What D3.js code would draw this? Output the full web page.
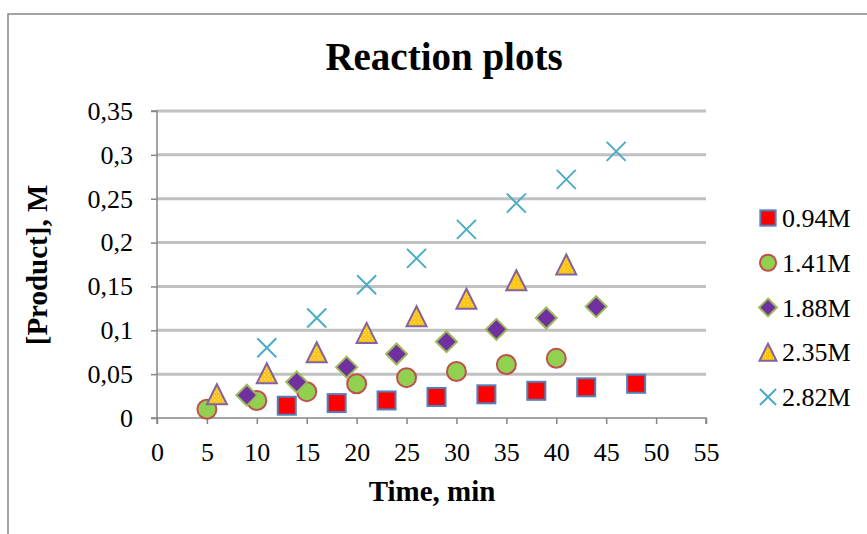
<!DOCTYPE html>
<html>
<head>
<meta charset="utf-8">
<script src="https://cdn.jsdelivr.net/npm/d3@7"></script>
<style>
  html, body { margin: 0; padding: 0; background: #fff; }
  svg { display: block; }
  text { font-family: "Liberation Serif", "Times New Roman", serif; fill: #000; }
</style>
</head>
<body>
<svg id="chart" width="867" height="534"></svg>
<script>
// ---- Data ----
const chartTitle = "Reaction plots";
const xTitle = "Time, min";
const yTitle = "[Product], M";
const seriesNames = ["0.94M", "1.41M", "1.88M", "2.35M", "2.82M"];
const times094 = [13, 18, 23, 28, 33, 38, 43, 48];
const vals094  = [0.014, 0.017, 0.020, 0.024, 0.027, 0.031, 0.035, 0.039];
const times141 = [5, 10, 15, 20, 25, 30, 35, 40];
const vals141  = [0.010, 0.020, 0.030, 0.039, 0.046, 0.053, 0.061, 0.068];
const times188 = [9, 14, 19, 24, 29, 34, 39, 44];
const vals188  = [0.026, 0.041, 0.058, 0.073, 0.087, 0.101, 0.114, 0.127];
const times235 = [6, 11, 16, 21, 26, 31, 36, 41];
const vals235  = [0.027, 0.051, 0.075, 0.097, 0.116, 0.136, 0.157, 0.175];
const times282 = [11, 16, 21, 26, 31, 36, 41, 46];
const vals282  = [0.080, 0.114, 0.152, 0.182, 0.215, 0.245, 0.272, 0.304];
const xTicks = [0, 5, 10, 15, 20, 25, 30, 35, 40, 45, 50, 55];
const yTicks = [0, 0.05, 0.1, 0.15, 0.2, 0.25, 0.3, 0.35];
const yTickLabels = ["0", "0,05", "0,1", "0,15", "0,2", "0,25", "0,3", "0,35"];

const seriesTimes = [times094, times141, times188, times235, times282];
const seriesVals = [vals094, vals141, vals188, vals235, vals282];
const series = seriesNames.map((name, i) => ({
  name, shape: i,
  points: seriesTimes[i].map((t, j) => ({ t, v: seriesVals[i][j] }))
}));

// ---- Layout ----
const svg = d3.select("#chart");
const plot = { left: 157, right: 706, top: 111, bottom: 418 };
const x = d3.scaleLinear().domain([0, 55]).range([plot.left, plot.right]);
const y = d3.scaleLinear().domain([0, 0.35]).range([plot.bottom, plot.top]);

// defs: dotted pattern for triangles
const defs = svg.append("defs");
const pat = defs.append("pattern").attr("id", "dots")
  .attr("patternUnits", "userSpaceOnUse").attr("width", 4).attr("height", 4);
pat.append("rect").attr("width", 4).attr("height", 4).attr("fill", "#ffc000");
pat.append("rect").attr("x", 1).attr("y", 1).attr("width", 1.3).attr("height", 1.3).attr("fill", "#fff8dc");
pat.append("rect").attr("x", 3).attr("y", 3).attr("width", 1).attr("height", 1).attr("fill", "#ffe59a");

svg.append("rect").attr("width", 867).attr("height", 534).attr("fill", "#fff");
// chart border (extends beyond the window)
svg.append("rect").attr("x", 8).attr("y", 14).attr("width", 900).attr("height", 600)
  .attr("fill", "none").attr("stroke", "#878787").attr("stroke-width", 1.5);

// gridlines
svg.append("g").selectAll("line").data(yTicks.filter(d => d > 0)).join("line")
  .attr("x1", plot.left).attr("x2", plot.right)
  .attr("y1", d => y(d)).attr("y2", d => y(d))
  .attr("stroke", "#c0c0c0").attr("stroke-width", 3);

// axes
const axisColor = "#868686";
const xAxis = svg.append("g").attr("transform", `translate(0,${plot.bottom})`)
  .call(d3.axisBottom(x).tickValues(xTicks).tickSize(6).tickPadding(19).tickFormat(d3.format("d")));
const yAxis = svg.append("g").attr("transform", `translate(${plot.left},0)`)
  .call(d3.axisLeft(y).tickValues(yTicks).tickSize(6).tickPadding(18).tickFormat((d, i) => yTickLabels[i]));
[xAxis, yAxis].forEach(g => {
  g.select(".domain").attr("stroke", axisColor).attr("stroke-width", 1.5);
  g.selectAll(".tick line").attr("stroke", axisColor).attr("stroke-width", 1.5);
  g.selectAll(".tick text").attr("font-family", "Liberation Serif").attr("font-size", 26).attr("fill", "#000");
});
xAxis.select(".domain").attr("d", `M${plot.left},6V0H${plot.right}V6`);
yAxis.select(".domain").attr("d", `M-6,${plot.top}H0V${plot.bottom}H-6`);

// marker drawing
function drawMarker(g, shape, s) {
  if (shape === 0) {
    g.append("rect").attr("x", -9 * s).attr("y", -9 * s).attr("width", 18 * s).attr("height", 18 * s)
      .attr("fill", "#ff0000").attr("stroke", "#4f81bd").attr("stroke-width", 2);
  } else if (shape === 1) {
    g.append("circle").attr("r", 9.5 * s)
      .attr("fill", "#92d050").attr("stroke", "#c0504d").attr("stroke-width", 2);
  } else if (shape === 2) {
    const r = 10.5 * s;
    g.append("path").attr("d", `M0,${-r}L${r},0L0,${r}L${-r},0Z`)
      .attr("fill", "#7030a0").attr("stroke", "#9bbb59").attr("stroke-width", 2);
  } else if (shape === 3) {
    const w = 10 * s, h = 10 * s;
    g.append("path").attr("d", `M0,${-h}L${w},${h}L${-w},${h}Z`)
      .attr("fill", "url(#dots)").attr("stroke", "#8064a2").attr("stroke-width", 2)
      .attr("stroke-linejoin", "miter");
  } else {
    const r = 9.5 * s;
    g.append("path").attr("d", `M${-r},${-r}L${r},${r}M${-r},${r}L${r},${-r}`)
      .attr("fill", "none").attr("stroke", "#4bacc6").attr("stroke-width", 2);
  }
}

// data points
series.forEach(sr => {
  const g = svg.append("g");
  sr.points.forEach(p => {
    const m = g.append("g").attr("transform", `translate(${x(p.t)},${y(p.v)})`);
    drawMarker(m, sr.shape, 1);
  });
});

// legend
const legendY = d3.scalePoint().domain(seriesNames).range([218, 397]);
series.forEach(sr => {
  const g = svg.append("g").attr("transform", `translate(768,${legendY(sr.name)})`);
  drawMarker(g, sr.shape, 0.85);
  g.append("text").attr("x", 14).attr("y", 0).attr("dy", "0.35em")
    .attr("font-size", 26).text(sr.name);
});

// titles
svg.append("text").attr("x", 444).attr("y", 70).attr("text-anchor", "middle")
  .attr("font-size", 39).attr("font-weight", "bold").text(chartTitle);
svg.append("text").attr("x", 432).attr("y", 501).attr("text-anchor", "middle")
  .attr("font-size", 29).attr("font-weight", "bold").text(xTitle);
svg.append("text").attr("transform", "translate(37,265) rotate(-90)")
  .attr("text-anchor", "middle").attr("dy", "0.35em")
  .attr("font-size", 29).attr("font-weight", "bold").text(yTitle);
</script>
</body>
</html>
